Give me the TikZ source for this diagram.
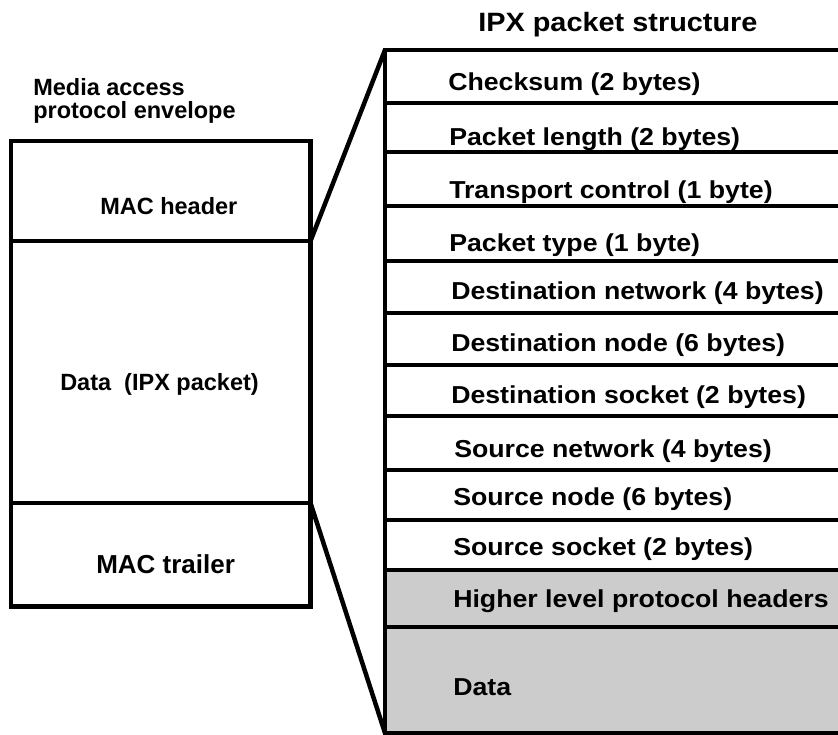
\documentclass[tikz,border=0pt]{standalone}
\usepackage{fontspec}
\setmainfont{Liberation Sans}
\newfontfamily\widefont{Liberation Sans}[FakeStretch=1.09]
\usetikzlibrary{positioning}
\tikzset{
  every picture/.style={font={\bfseries\fontsize{23.5}{23}\selectfont}, line width=4.5pt}}

\begin{document}
\begin{tikzpicture}[x=1pt, y=-1pt,
    box/.style={draw, rectangle, outer sep=0pt, inner sep=0pt, minimum width=299.5pt, anchor=north west},
    field/.style={draw, rectangle, outer sep=0pt, inner sep=0pt, minimum width=480pt, anchor=north west},
    shaded/.style={field, fill=black!20},
    txt/.style={anchor=base west, inner sep=0pt},
    fieldtxt/.style={txt, font={\widefont\bfseries\fontsize{24.5}{24}\selectfont}}]

    \useasboundingbox (0,0) rectangle (838,735);

    % media access envelope
    \node[txt] (envA) at (31,95.7) {Media access};
    \node[txt] (envB) at (31,118.3) {protocol envelope};

    \node[box, minimum height=100pt] (hdr) at (11,141) {};
    \node[box, minimum height=262pt, below=0pt of hdr] (body) {};
    \node[box, minimum height=103.5pt, below=0pt of body] (trl) {};

    \node[txt] (hdrtxt) at (98,215) {MAC header};
    \node[txt] (bodytxt) at (58,390) {Data\ \ (IPX packet)};
    \node[txt, font={\bfseries\fontsize{26}{26}\selectfont}] (trltxt) at (94,573) {MAC trailer};

    % IPX packet
    \node[fieldtxt, font={\widefont\bfseries\fontsize{26.5}{26}\selectfont}] (title) at (476,32) {IPX packet structure};

    \node[field, minimum height=53pt] (f1) at (385,50) {};
    \node[field, minimum height=49pt, below=0pt of f1] (f2) {};
    \node[field, minimum height=54pt, below=0pt of f2] (f3) {};
    \node[field, minimum height=55pt, below=0pt of f3] (f4) {};
    \node[field, minimum height=52pt, below=0pt of f4] (f5) {};
    \node[field, minimum height=52pt, below=0pt of f5] (f6) {};
    \node[field, minimum height=51pt, below=0pt of f6] (f7) {};
    \node[field, minimum height=54pt, below=0pt of f7] (f8) {};
    \node[field, minimum height=50pt, below=0pt of f8] (f9) {};
    \node[field, minimum height=50pt, below=0pt of f9] (f10) {};
    \node[shaded, minimum height=57pt, below=0pt of f10] (f11) {};
    \node[shaded, minimum height=106pt, below=0pt of f11] (f12) {};

    \node[fieldtxt] (t1) at (446,91) {Checksum (2 bytes)};
    \node[fieldtxt] (t2) at (447,146) {Packet length (2 bytes)};
    \node[fieldtxt] (t3) at (447,199) {Transport control (1 byte)};
    \node[fieldtxt] (t4) at (447,252) {Packet type (1 byte)};
    \node[fieldtxt] (t5) at (449,300) {Destination network (4 bytes)};
    \node[fieldtxt] (t6) at (449,352) {Destination node (6 bytes)};
    \node[fieldtxt] (t7) at (449,403) {Destination socket (2 bytes)};
    \node[fieldtxt] (t8) at (452,457) {Source network (4 bytes)};
    \node[fieldtxt] (t9) at (451,505) {Source node (6 bytes)};
    \node[fieldtxt] (t10) at (451,555) {Source socket (2 bytes)};
    \node[fieldtxt] (t11) at (451,607) {Higher level protocol headers};
    \node[fieldtxt] (t12) at (451,695) {Data};

    % expansion lines
    \draw (hdr.south east) -- (f1.north west);
    \draw (body.south east) -- (f12.south west);
\end{tikzpicture}
\end{document}
